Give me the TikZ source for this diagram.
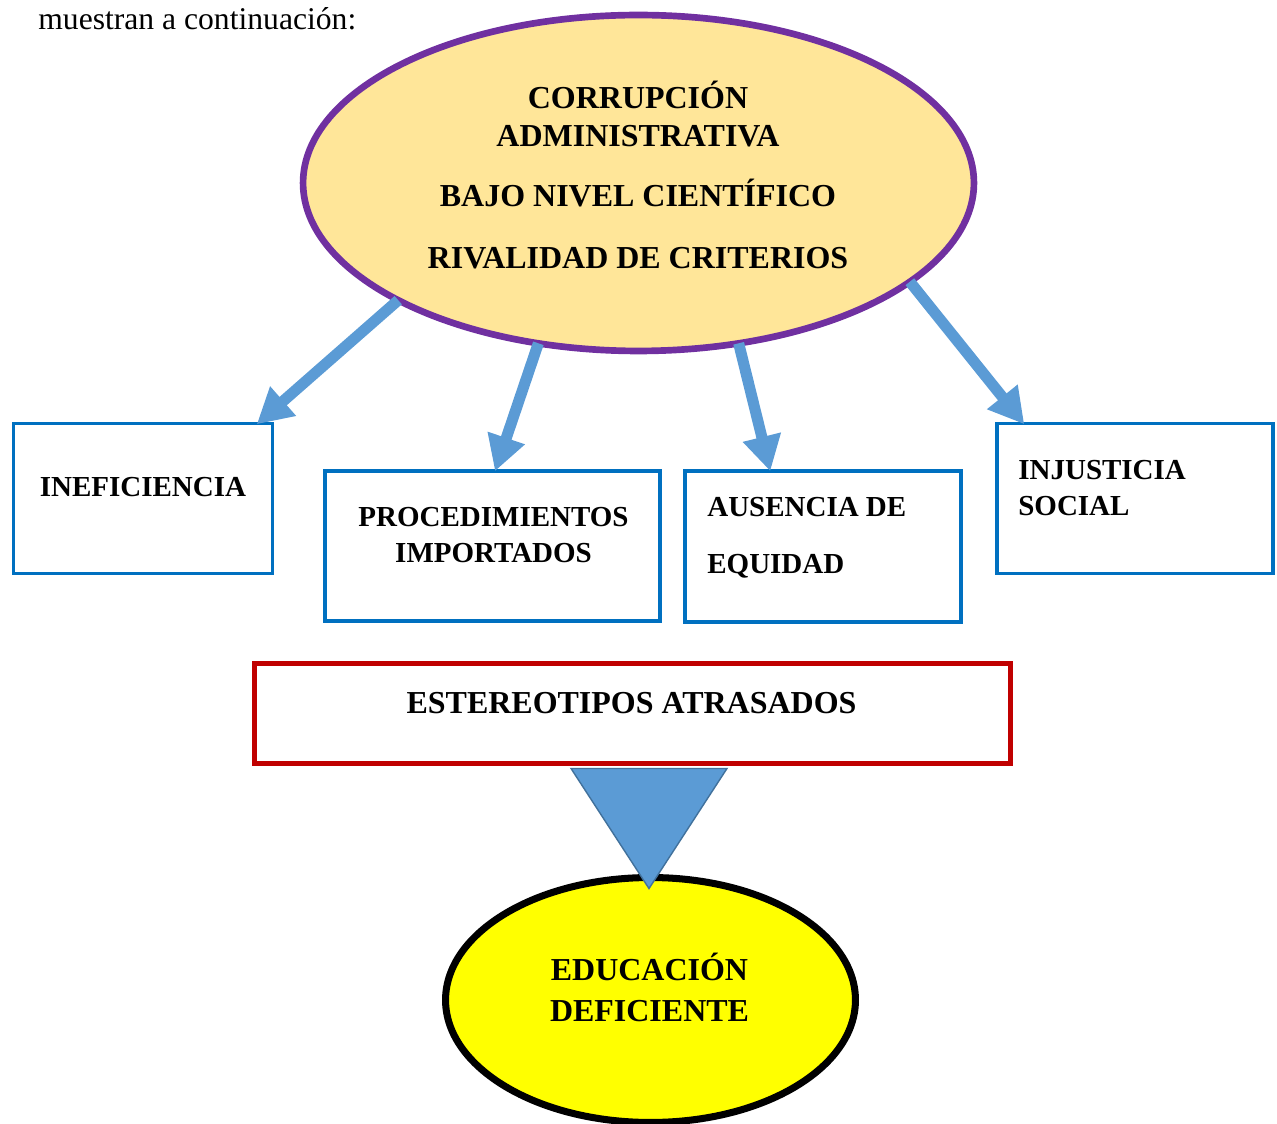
\documentclass[tikz,border=0pt]{standalone}
\usepackage{fontspec}
\setmainfont{Liberation Serif}
\usetikzlibrary{shapes.geometric,arrows.meta,calc}

\definecolor{morado}{HTML}{7030A0}
\definecolor{crema}{HTML}{FFE699}
\definecolor{azulcaja}{HTML}{0070C0}
\definecolor{azulflecha}{HTML}{5B9BD5}
\definecolor{azulborde}{HTML}{41719C}
\definecolor{rojo}{HTML}{C00000}
\definecolor{amarillo}{HTML}{FFFF00}

\tikzset{
  caja/.style={rectangle, draw=azulcaja, line width=2pt, minimum height=3cm, inner sep=0pt},
  texto/.style={font=\bfseries\fontsize{16.5}{20.4}\selectfont, inner sep=0pt},
  titulo/.style={font=\bfseries\fontsize{18.2}{21.5}\selectfont, inner sep=0pt},
  flecha/.style={draw=azulflecha, line width=6.3pt, -{Triangle[length=20pt,width=21pt]}},
}

\begin{document}
\begin{tikzpicture}[x=0.02cm,y=-0.02cm]
    \useasboundingbox (0,0) rectangle (1277,1124);
    % Intro
    \node[anchor=base west, font=\fontsize{18}{21.5}\selectfont, inner sep=0pt] (intro) at (38,30) {muestran a continuación:};
    % Causas
    \node[ellipse, draw=morado, fill=crema, line width=3.8pt, minimum width=13.42cm, minimum height=6.72cm, inner sep=0pt, outer sep=0pt] (causas) at (638.5,183) {};
    \node[titulo, align=center, anchor=base] (causastxt) at (638,268.5) {CORRUPCIÓN\\ADMINISTRATIVA\\[13.1pt]BAJO NIVEL CIENTÍFICO\\[13.6pt]RIVALIDAD DE CRITERIOS};
    % Efectos
    \node[caja, minimum width=5.18cm] (inef) at (143,498.5) {};
    \node[texto, anchor=base] (ineftxt) at (143,496.6) {INEFICIENCIA};
    \node[caja, minimum width=6.7cm] (proc) at (492.5,546) {};
    \node[texto, align=center, anchor=base] (proctxt) at (493.5,562.6) {PROCEDIMIENTOS\\IMPORTADOS};
    \node[caja, minimum width=5.52cm, minimum height=3.02cm] (ausen) at (823,546.5) {};
    \node[texto, align=left, anchor=base west] (ausentxt) at (707,573.6) {AUSENCIA DE\\[11.9pt]EQUIDAD};
    \node[caja, minimum width=5.52cm] (injus) at (1135,498.5) {};
    \node[texto, align=left, anchor=base west] (injustxt) at (1018,515.3) {INJUSTICIA\\SOCIAL};
    % Flechas
    \draw[flecha] (causas.206) -- ($(inef.north east)+(-17.5,2.5)$);
    \draw[flecha] (causas.238) -- ($(proc.north)+(2.5,2)$);
    \draw[flecha] (causas.302.5) -- ($(ausen.north west)+(87,2)$);
    \draw[flecha] (causas.340.5) -- ($(injus.north west)+(29,2.5)$);
    % Estereotipos
    \node[rectangle, draw=rojo, line width=2.8pt, minimum width=15.12cm, minimum height=2cm, inner sep=0pt] (estereo) at (632.5,713.5) {};
    \node[titulo, anchor=base] (estereotxt) at (631.5,713.6) {ESTEREOTIPOS ATRASADOS};
    % Consecuencia
    \node[ellipse, draw=black, fill=amarillo, line width=4pt, minimum width=8.2cm, minimum height=4.9cm, inner sep=0pt, outer sep=0pt] (educ) at (650.5,1000) {};
    \node[titulo, align=center, anchor=base] (eductxt) at (649.5,1021.6) {EDUCACIÓN\\[1.7pt]DEFICIENTE};
    \filldraw[fill=azulflecha, draw=azulborde, line width=0.8pt] ($(estereo.south)+(-61.5,2.5)$) -- ($(estereo.south)+(94.5,2.5)$) -- ($(educ.north)+(-1.5,11)$) -- cycle;
\end{tikzpicture}
\end{document}
